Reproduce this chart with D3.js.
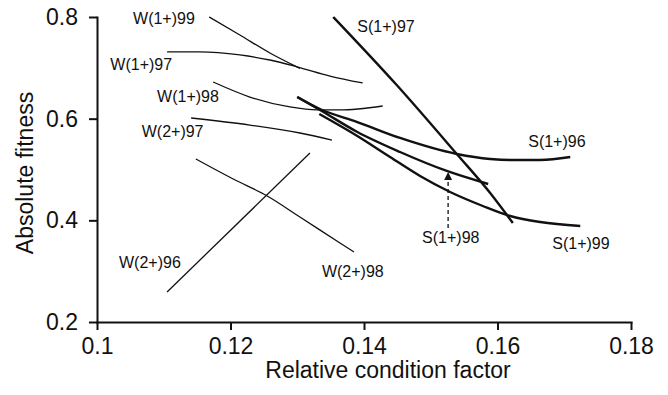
<!DOCTYPE html>
<html>
<head>
<meta charset="utf-8">
<script src="https://cdn.jsdelivr.net/npm/d3@7"></script>
<style>
  html, body { margin: 0; padding: 0; background: #fff; }
  svg { display: block; font-family: "Liberation Sans", Arial, Helvetica, sans-serif; }
  .axis path, .axis line { stroke: #111; stroke-width: 2; }
  .axis text { font-size: 23px; fill: #111; }
  .title { font-size: 23px; fill: #111; }
  .lbl { font-size: 16px; fill: #111; }
</style>
</head>
<body>
<div id="chart"></div>
<script>
// values: [relative condition factor, absolute fitness]
const w1p99 = [[0.1168, 0.800], [0.1214, 0.7646], [0.1259, 0.7292], [0.1304, 0.6990]];
const w1p97 = [[0.1105, 0.7312], [0.1154, 0.7312], [0.1214, 0.7253], [0.1259, 0.7154], [0.1301, 0.7016], [0.1349, 0.6839], [0.1398, 0.6702]];
const w1p98 = [[0.1174, 0.6721], [0.1229, 0.6426], [0.1289, 0.6230], [0.1330, 0.6171], [0.1364, 0.6171], [0.1428, 0.6249]];
const w2p97 = [[0.1141, 0.6013], [0.1229, 0.5875], [0.1304, 0.5718], [0.1352, 0.5580]];
const w2p96 = [[0.1105, 0.2590], [0.1319, 0.5325]];
const w2p98 = [[0.1148, 0.5207], [0.1204, 0.4813], [0.1255, 0.4479], [0.1304, 0.4066], [0.1364, 0.3554], [0.1385, 0.3377]];
const s1p97 = [[0.1354, 0.800], [0.1449, 0.6662], [0.1539, 0.5305], [0.1589, 0.4538], [0.1623, 0.3948]];
const s1p96 = [[0.1300, 0.6426], [0.1334, 0.6190], [0.1390, 0.5934], [0.1454, 0.5620], [0.1539, 0.5305], [0.1589, 0.5207], [0.1619, 0.5187], [0.1664, 0.5187], [0.1709, 0.5246]];
const s1p98 = [[0.1300, 0.6426], [0.1334, 0.6171], [0.1390, 0.5738], [0.1454, 0.5344], [0.1524, 0.4971], [0.1586, 0.4715]];
const s1p99 = [[0.1333, 0.6092], [0.1390, 0.5659], [0.1439, 0.5246], [0.1484, 0.4872], [0.1529, 0.4557], [0.1578, 0.4282], [0.1619, 0.4085], [0.1664, 0.3967], [0.1724, 0.3889]];

const seriesNames = ["W(1+)99", "W(1+)97", "W(1+)98", "W(2+)97", "W(2+)96", "W(2+)98", "S(1+)97", "S(1+)96", "S(1+)98", "S(1+)99"];
const seriesPoints = [w1p99, w1p97, w1p98, w2p97, w2p96, w2p98, s1p97, s1p96, s1p98, s1p99];
// where each name sits (start of text baseline), in data units
const labelAt = [[0.1054, 0.786], [0.1020, 0.696], [0.1090, 0.633], [0.1067, 0.564], [0.1033, 0.306], [0.1337, 0.288], [0.1390, 0.770], [0.1646, 0.544], [0.1487, 0.355], [0.1682, 0.343]];
// dashed pointer to S(1+)98
const arrowX = 0.1526;
const arrowFrom = 0.385;
const arrowTo = 0.4951;

const xTicks = [0.1, 0.12, 0.14, 0.16, 0.18];
const yTicks = [0.2, 0.4, 0.6, 0.8];

const width = 668, height = 395;
const svg = d3.select("#chart").append("svg").attr("width", width).attr("height", height);
svg.append("rect").attr("width", width).attr("height", height).attr("fill", "#fff");

const x = d3.scaleLinear().domain([0.1, 0.18]).range([97, 631]);
const y = d3.scaleLinear().domain([0.2, 0.8]).range([322, 17]);

svg.append("g").attr("class", "axis").attr("transform", "translate(0,322)")
  .call(d3.axisBottom(x).tickValues(xTicks).tickSize(8).tickSizeOuter(0).tickPadding(8).tickFormat(d3.format("~g")));
svg.append("g").attr("class", "axis").attr("transform", "translate(97,0)")
  .call(d3.axisLeft(y).tickValues(yTicks).tickSize(8).tickSizeOuter(0).tickPadding(11).tickFormat(d3.format(".1f")));
svg.selectAll(".axis path").attr("stroke-linecap", "square");

svg.append("text").attr("class", "title").attr("x", 388).attr("y", 378).attr("text-anchor", "middle").text("Relative condition factor");
svg.append("text").attr("class", "title").attr("text-anchor", "middle").attr("transform", "translate(33,173) rotate(-90)").text("Absolute fitness");

const line = d3.line().x((d) => x(d[0])).y((d) => y(d[1])).curve(d3.curveMonotoneX);

svg.append("g").selectAll("path").data(seriesPoints).enter().append("path")
  .attr("d", line)
  .attr("fill", "none")
  .attr("stroke", "#111")
  .attr("stroke-width", (_, i) => (seriesNames[i][0] === "S" ? 2.4 : 1.3))
  .attr("stroke-linecap", "butt");

svg.append("g").selectAll("text").data(seriesNames).enter().append("text")
  .attr("class", "lbl")
  .attr("x", (_, i) => x(labelAt[i][0]))
  .attr("y", (_, i) => y(labelAt[i][1]))
  .text((d) => d);

const ax = x(arrowX);
svg.append("line").attr("x1", ax).attr("x2", ax).attr("y1", y(arrowFrom)).attr("y2", y(arrowTo) + 7)
  .attr("stroke", "#111").attr("stroke-width", 1.3).attr("stroke-dasharray", "4 3");
svg.append("path")
  .attr("d", `M${ax},${y(arrowTo)} L${ax - 4},${y(arrowTo) + 8} L${ax + 4},${y(arrowTo) + 8} Z`)
  .attr("fill", "#111");
</script>
</body>
</html>
